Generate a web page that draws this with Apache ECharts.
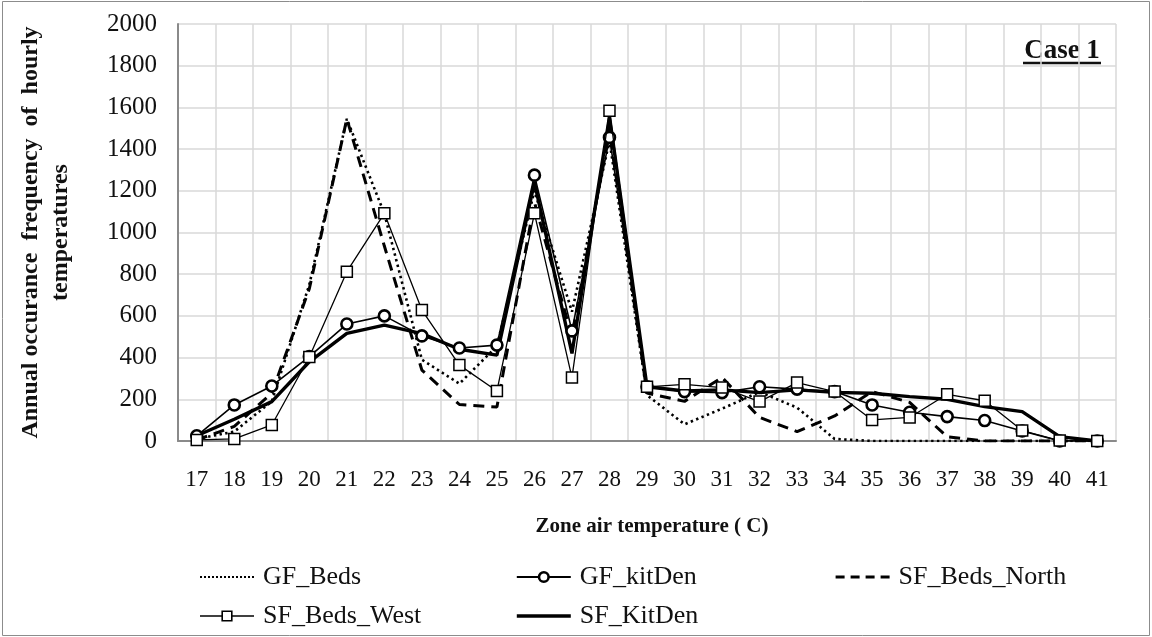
<!DOCTYPE html>
<html>
<head>
<meta charset="utf-8">
<script src="https://cdn.jsdelivr.net/npm/echarts@6/dist/echarts.min.js"></script>
<style>
  html, body { margin: 0; padding: 0; background: #fff; }
  #chart { width: 1152px; height: 637px; }
</style>
</head>
<body>
<div id="chart"></div>
<script>
// Zone air temperature bins (°C)
const categories = ['17','18','19','20','21','22','23','24','25','26','27','28','29',
  '30','31','32','33','34','35','36','37','38','39','40','41'];

// Annual occurrence frequency of hourly temperatures per zone
const gfBeds = [10, 45, 190, 750, 1545, 1090, 390, 275, 455, 1200, 620, 1440, 220,
  80, 155, 235, 160, 10, 0, 0, 0, 0, 0, 0, 0];
const gfKitDen = [25, 173, 264, 405, 561, 600, 504, 446, 460, 1275, 528, 1456, 260,
  237, 232, 260, 249, 237, 173, 138, 117, 98, 48, 0, 0];
const sfBedsNorth = [5, 70, 230, 730, 1545, 935, 340, 175, 163, 1145, 500, 1500, 230,
  190, 305, 113, 45, 120, 237, 185, 20, 0, 0, 0, 0];
const sfBedsWest = [5, 10, 77, 403, 812, 1092, 628, 364, 240, 1092, 304, 1584, 260,
  272, 256, 189, 280, 237, 101, 113, 224, 193, 50, 2, 0];
const sfKitDen = [25, 104, 189, 380, 516, 556, 515, 440, 412, 1240, 420, 1556, 260,
  240, 245, 232, 245, 233, 229, 213, 200, 165, 141, 21, 0];

const yTicks = { min: 0, max: 2000, interval: 200 };

const FONT = 'Liberation Serif';
const chart = echarts.init(document.getElementById('chart'), null, { renderer: 'canvas' });

const legendText = { fontFamily: FONT, fontSize: 26, color: '#111', lineHeight: 26, padding: [0, 0, 0, 4] };
const legendBase = {
  orient: 'vertical', itemWidth: 54, itemHeight: 12, itemGap: 13,
  top: 559, textStyle: legendText, selectedMode: false
};
// line-only key entries: keep the stroke, hide the marker
const plainKey = (name, lineStyle) => ({ name: name, itemStyle: { opacity: 0 }, lineStyle: lineStyle });

chart.setOption({
  animation: false,
  backgroundColor: '#fff',
  grid: { left: 178, right: 36, top: 24, bottom: 196, containLabel: false },
  xAxis: {
    type: 'category',
    data: categories,
    boundaryGap: true,
    name: 'Zone air temperature ( C)',
    nameLocation: 'middle',
    nameGap: 75,
    nameTextStyle: { fontFamily: FONT, fontSize: 21, fontWeight: 'bold', color: '#111', padding: [0, 0, 0, 10] },
    axisLine: { lineStyle: { color: '#8a8a8a', width: 2 } },
    axisTick: { show: false },
    axisLabel: { fontFamily: FONT, fontSize: 23, color: '#111', margin: 27 },
    splitLine: { show: true, lineStyle: { color: '#d9d9d9', width: 1.5 } }
  },
  yAxis: {
    type: 'value',
    min: yTicks.min, max: yTicks.max, interval: yTicks.interval,
    name: 'Annual occurance  frequency  of  hourly\ntemperatures',
    nameLocation: 'middle',
    nameRotate: 90,
    nameGap: 102,
    nameTextStyle: { fontFamily: FONT, fontSize: 24, fontWeight: 'bold', color: '#111', lineHeight: 30 },
    axisLine: { show: true, lineStyle: { color: '#8a8a8a', width: 2 } },
    axisTick: { show: false },
    axisLabel: {
      fontFamily: FONT, fontSize: 25, color: '#111', margin: 21,
      formatter: (v) => String(v)
    },
    splitLine: { show: true, lineStyle: { color: '#d9d9d9', width: 1.5 } }
  },
  legend: [
    Object.assign({
      left: 194,
      data: [
        plainKey('GF_Beds', { width: 2, type: [2, 2] }),
        { name: 'SF_Beds_West', lineStyle: { width: 1.6 }, itemStyle: { borderWidth: 1.6 } }
      ]
    }, legendBase),
    Object.assign({
      left: 510,
      data: [
        { name: 'GF_kitDen', lineStyle: { width: 2 }, itemStyle: { borderWidth: 2.6 } },
        plainKey('SF_KitDen', { width: 3.6 })
      ]
    }, legendBase),
    Object.assign({
      left: 829,
      data: [plainKey('SF_Beds_North', { width: 3.2, type: [9, 6] })]
    }, legendBase)
  ],
  series: [
    {
      name: 'GF_Beds', type: 'line', data: gfBeds, z: 2,
      symbol: 'none',
      lineStyle: { color: '#000', width: 2.6, type: [2.4, 3.4] },
      itemStyle: { color: '#000' }
    },
    {
      name: 'SF_Beds_North', type: 'line', data: sfBedsNorth, z: 2,
      symbol: 'none',
      lineStyle: { color: '#000', width: 3, type: [11, 7] },
      itemStyle: { color: '#000' }
    },
    {
      name: 'SF_KitDen', type: 'line', data: sfKitDen, z: 3,
      symbol: 'none',
      lineStyle: { color: '#000', width: 3.4 },
      itemStyle: { color: '#000' }
    },
    {
      name: 'GF_kitDen', type: 'line', data: gfKitDen, z: 4,
      symbol: 'circle', symbolSize: 11, showAllSymbol: true,
      lineStyle: { color: '#000', width: 1.6 },
      itemStyle: { color: '#fff', borderColor: '#000', borderWidth: 2.6 }
    },
    {
      name: 'SF_Beds_West', type: 'line', data: sfBedsWest, z: 5,
      symbol: 'rect', symbolSize: 11, showAllSymbol: true,
      lineStyle: { color: '#000', width: 1.3 },
      itemStyle: { color: '#fff', borderColor: '#000', borderWidth: 1.5 }
    }
  ],
  graphic: [
    {
      type: 'rect', silent: true, z: -1,
      shape: { x: 2.5, y: 1.5, width: 1147, height: 634 },
      style: { fill: null, stroke: '#8c8c8c', lineWidth: 1 }
    },
    {
      type: 'text', silent: true,
      x: 1062, y: 51,
      style: {
        text: 'Case 1', fontFamily: FONT, fontSize: 27, fontWeight: 'bold',
        fill: '#111', align: 'center', verticalAlign: 'middle'
      }
    },
    {
      type: 'line', silent: true,
      shape: { x1: 1023, y1: 63, x2: 1101, y2: 63 },
      style: { stroke: '#111', lineWidth: 2.4 }
    }
  ]
});
</script>
</body>
</html>
